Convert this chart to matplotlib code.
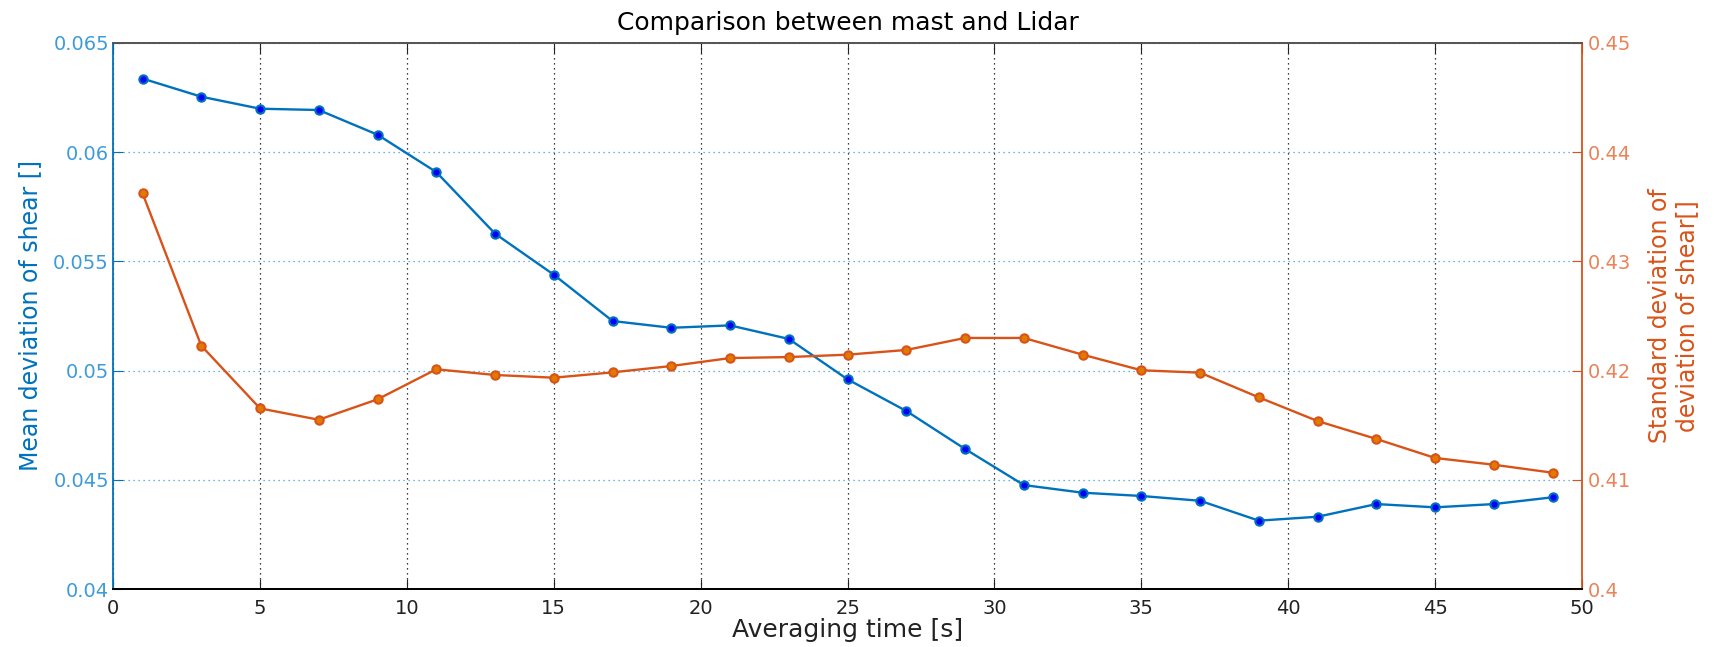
import numpy as np
import matplotlib
matplotlib.use('Agg')
import matplotlib.pyplot as plt

# averaging time [s]
avg_time = np.arange(1, 50, 2)

# mean deviation of shear (left axis)
mean_dev = [0.06337, 0.06254, 0.06199, 0.06193, 0.06080, 0.05909, 0.05627, 0.05439,
            0.05227, 0.05196, 0.05207, 0.05145, 0.04960, 0.04815, 0.04641, 0.04476,
            0.04441, 0.04426, 0.04404, 0.04313, 0.04331, 0.04389, 0.04374, 0.04389, 0.04420]

# standard deviation of deviation of shear (right axis)
std_dev = [0.43624, 0.42228, 0.41654, 0.41550, 0.41737, 0.42012, 0.41960, 0.41935,
           0.41984, 0.42042, 0.42115, 0.42124, 0.42146, 0.42189, 0.42299, 0.42299,
           0.42146, 0.42003, 0.41981, 0.41755, 0.41538, 0.41374, 0.41200, 0.41138, 0.41065]

x_ticks = [0, 5, 10, 15, 20, 25, 30, 35, 40, 45, 50]
left_ticks = [0.04, 0.045, 0.05, 0.055, 0.06, 0.065]
left_labels = ['0.04', '0.045', '0.05', '0.055', '0.06', '0.065']
right_ticks = [0.4, 0.41, 0.42, 0.43, 0.44, 0.45]
right_labels = ['0.4', '0.41', '0.42', '0.43', '0.44', '0.45']

blue = '#0072BD'
blue_lt = '#3D9BDA'
orange = '#D95319'
orange_lt = '#E8835A'

fig = plt.figure(figsize=(17.14, 6.47), dpi=100)
ax = fig.add_axes([0.066, 0.0896, 0.857, 0.844])
ax2 = ax.twinx()

ax.plot(avg_time, mean_dev, color=blue, linewidth=1.7, marker='o', markersize=6,
        markerfacecolor='#0000FF', markeredgecolor=blue, markeredgewidth=1.5, zorder=3)
ax2.plot(avg_time, std_dev, color=orange, linewidth=1.7, marker='o', markersize=6,
         markerfacecolor='#E07A00', markeredgecolor=orange, markeredgewidth=1.5, zorder=3)

ax.set_xlim(0, 50)
ax.set_ylim(0.04, 0.065)
ax2.set_ylim(0.4, 0.45)

ax.set_xticks(x_ticks)
ax.set_yticks(left_ticks)
ax.set_yticklabels(left_labels)
ax2.set_yticks(right_ticks)
ax2.set_yticklabels(right_labels)

# grid: x black dotted, y blue dotted
ax.grid(True, axis='x', color='black', linestyle=(0, (1, 3)), linewidth=0.9)
ax.grid(True, axis='y', color=blue_lt, linestyle=(0, (1, 3)), linewidth=0.9)
ax.set_axisbelow(True)

ax.tick_params(axis='x', direction='in', top=True, length=7, labelsize=14, colors='#222222', pad=7)
ax.tick_params(axis='y', direction='in', length=7, labelsize=14, colors=blue, labelcolor=blue_lt, pad=3)
ax2.tick_params(axis='y', direction='in', length=7, labelsize=14, colors=orange, labelcolor=orange_lt, pad=4)

ax.spines['left'].set_color(blue)
ax.spines['top'].set_color('#555555')
ax.spines['bottom'].set_color('black')
ax2.spines['left'].set_visible(False)
ax2.spines['top'].set_color('#555555')
ax2.spines['right'].set_color(orange)
ax.spines['right'].set_visible(False)
for sp in ax.spines.values():
    sp.set_linewidth(1.3)
for sp in ax2.spines.values():
    sp.set_linewidth(1.3)

ax.set_xlabel('Averaging time [s]', fontsize=18, color='#222222', labelpad=0)
ax.set_ylabel('Mean deviation of shear []', fontsize=17, color=blue, labelpad=8)
ax2.set_ylabel('Standard deviation of\ndeviation of shear[]', fontsize=17, color=orange, labelpad=12)
ax.set_title('Comparison between mast and Lidar', fontsize=18, pad=9)

plt.savefig('out.png', dpi=100)
